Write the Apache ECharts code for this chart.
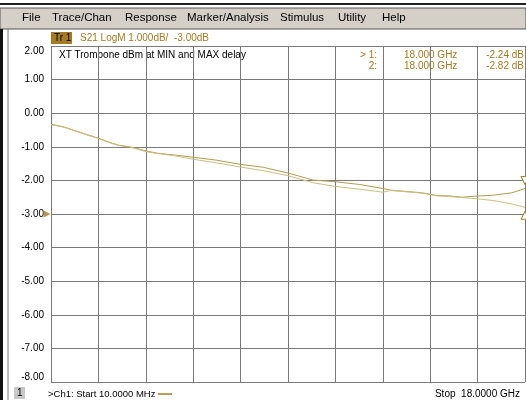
<!DOCTYPE html>
<html>
<head>
<meta charset="utf-8">
<script src="https://cdn.jsdelivr.net/npm/echarts@6/dist/echarts.min.js"></script>
<style>
  html, body { margin: 0; padding: 0; background: #fff; }
  #vnaChart { width: 526px; height: 400px; }
</style>
</head>
<body>
<div id="vnaChart"></div>
<script>
// frequency points in GHz (start 10 MHz, stop 18 GHz)
var freqGHz = [0.01, 0.5, 0.84, 1.3, 1.79, 2.2, 2.55, 3.0, 3.65, 4.03, 4.64, 5.4, 6.3, 7.18, 8.06, 9.0,
  9.95, 10.8, 11.7, 12.3, 12.6, 12.9, 13.5, 14.1, 14.65, 15.1, 15.6, 16.1, 16.8, 17.5, 18.0];
// S21 in dB, trace at MIN delay (marker 1) and MAX delay (marker 2)
var s21Trace1 = [-0.33, -0.41, -0.5, -0.62, -0.74, -0.86, -0.95, -1.0, -1.13, -1.19, -1.24, -1.31, -1.4, -1.52, -1.61, -1.78,
  -1.99, -2.04, -2.12, -2.2, -2.24, -2.29, -2.33, -2.37, -2.45, -2.46, -2.5, -2.47, -2.44, -2.37, -2.24];
var s21Trace2 = [-0.34, -0.42, -0.51, -0.63, -0.75, -0.87, -0.96, -1.01, -1.15, -1.2, -1.26, -1.37, -1.48, -1.6, -1.71, -1.86,
  -2.07, -2.18, -2.26, -2.32, -2.35, -2.3, -2.34, -2.38, -2.46, -2.48, -2.51, -2.54, -2.6, -2.7, -2.8];
var yTicks = [2, 1, 0, -1, -2, -3, -4, -5, -6, -7, -8];
var refLevel = -3;
var menuItems = ['File', 'Trace/Chan', 'Response', 'Marker/Analysis', 'Stimulus', 'Utility', 'Help'];
var menuX = [22, 52, 125, 187, 280, 338, 382];
var markerRows = [
  ['> 1:', '18.000 GHz', '-2.24 dB'],
  ['2:', '18.000 GHz', '-2.82 dB']
];

var gold = '#a57b22';
var font = '"Liberation Sans", Arial, sans-serif';

function pairs(xs, ys) {
  var out = [];
  for (var i = 0; i < xs.length; i++) out.push([xs[i], ys[i]]);
  return out;
}

var graphics = [
  // window frame + menu bar
  { type: 'line', shape: { x1: 0, y1: 4, x2: 526, y2: 4 }, style: { stroke: '#222', lineWidth: 2 } },
  { type: 'rect', shape: { x: 0, y: 8, width: 526, height: 21 }, style: { fill: '#d4d0c8', stroke: '#555', lineWidth: 1 } },
  { type: 'rect', shape: { x: 0, y: 29, width: 3, height: 371 }, style: { fill: '#111' } },
  { type: 'line', shape: { x1: 8, y1: 29, x2: 8, y2: 400 }, style: { stroke: '#777', lineWidth: 1 } },
  // Tr 1 tag
  { type: 'rect', shape: { x: 51, y: 32, width: 21, height: 12 }, style: { fill: gold } },
  { type: 'text', left: 54, top: 33, style: { text: 'Tr 1', font: '10px ' + font, fill: '#000' } },
  { type: 'text', left: 80, top: 33, style: { text: 'S21 LogM 1.000dB/  -3.00dB', font: '10px ' + font, fill: gold } },
  { type: 'text', left: 59, top: 50, style: { text: 'XT Trombone dBm at MIN and MAX delay', font: '10px ' + font, fill: '#000' } },
  // status bar
  { type: 'rect', shape: { x: 14, y: 387, width: 11, height: 12 }, style: { fill: '#c8c8c8' } },
  { type: 'text', left: 17, top: 388, style: { text: '1', font: '10px ' + font, fill: '#000' } },
  { type: 'text', left: 48, top: 389, style: { text: '>Ch1: Start 10.0000 MHz', font: '9.5px ' + font, fill: '#000' } },
  { type: 'line', shape: { x1: 158, y1: 394, x2: 172, y2: 394 }, style: { stroke: gold, lineWidth: 1.5 } },
  { type: 'text', right: 6, top: 389, style: { text: 'Stop  18.0000 GHz', font: '10px ' + font, fill: '#000' } }
];
menuItems.forEach(function (m, i) {
  graphics.push({ type: 'text', left: menuX[i], top: 12, style: { text: m, font: '11.5px ' + font, fill: '#000' } });
});
markerRows.forEach(function (r, i) {
  var y = 50 + i * 11;
  graphics.push({ type: 'text', right: 149, top: y, style: { text: r[0], font: '10px ' + font, fill: gold } });
  graphics.push({ type: 'text', left: 404, top: y, style: { text: r[1], font: '10px ' + font, fill: gold } });
  graphics.push({ type: 'text', right: 2, top: y, style: { text: r[2], font: '10px ' + font, fill: gold } });
});

var chart = echarts.init(document.getElementById('vnaChart'), null, { renderer: 'canvas' });
var option = {
  backgroundColor: '#fff',
  animation: false,
  textStyle: { fontFamily: font },
  grid: { left: 51, right: 1, top: 46, bottom: 18, containLabel: false },
  xAxis: {
    type: 'value',
    min: 0,
    max: 18,
    interval: 1.8,
    axisLine: { show: false },
    axisTick: { show: false },
    axisLabel: { show: false },
    splitLine: { show: true, lineStyle: { color: '#7a7a7a', width: 1 } }
  },
  yAxis: {
    type: 'value',
    min: yTicks[yTicks.length - 1],
    max: yTicks[0],
    interval: 1,
    axisLine: { show: false },
    axisTick: { show: false },
    axisLabel: {
      color: '#000',
      fontSize: 10,
      margin: 7,
      verticalAlignMinLabel: 'bottom',
      verticalAlignMaxLabel: 'top',
      formatter: function (v) { return v.toFixed(2); }
    },
    splitLine: { show: true, lineStyle: { color: '#7a7a7a', width: 1 } }
  },
  graphic: graphics,
  series: [
    {
      name: 'MIN delay',
      type: 'line',
      data: pairs(freqGHz, s21Trace1),
      showSymbol: false,
      lineStyle: { color: '#b39b4f', width: 1 },
      markPoint: {
        symbol: 'triangle',
        symbolSize: [8, 8],
        symbolRotate: 180,
        symbolOffset: [0, -8],
        itemStyle: { color: '#fff', borderColor: gold, borderWidth: 1 },
        label: { show: false },
        data: [{ coord: [freqGHz[freqGHz.length - 1], s21Trace1[s21Trace1.length - 1]] }]
      }
    },
    {
      name: 'MAX delay',
      type: 'line',
      data: pairs(freqGHz, s21Trace2),
      showSymbol: false,
      lineStyle: { color: '#cdbf82', width: 1 },
      markPoint: {
        symbol: 'triangle',
        symbolSize: [8, 8],
        symbolOffset: [0, 8],
        itemStyle: { color: '#fff', borderColor: gold, borderWidth: 1 },
        label: { show: false },
        data: [{ coord: [freqGHz[freqGHz.length - 1], s21Trace2[s21Trace2.length - 1]] }]
      }
    },
    {
      name: 'ref level',
      type: 'scatter',
      clip: false,
      data: [[0, refLevel]],
      symbol: 'triangle',
      symbolSize: 7,
      symbolRotate: -90,
      symbolOffset: [-4, 0],
      itemStyle: { color: gold },
      silent: true
    }
  ]
};
chart.setOption(option);
</script>
</body>
</html>
